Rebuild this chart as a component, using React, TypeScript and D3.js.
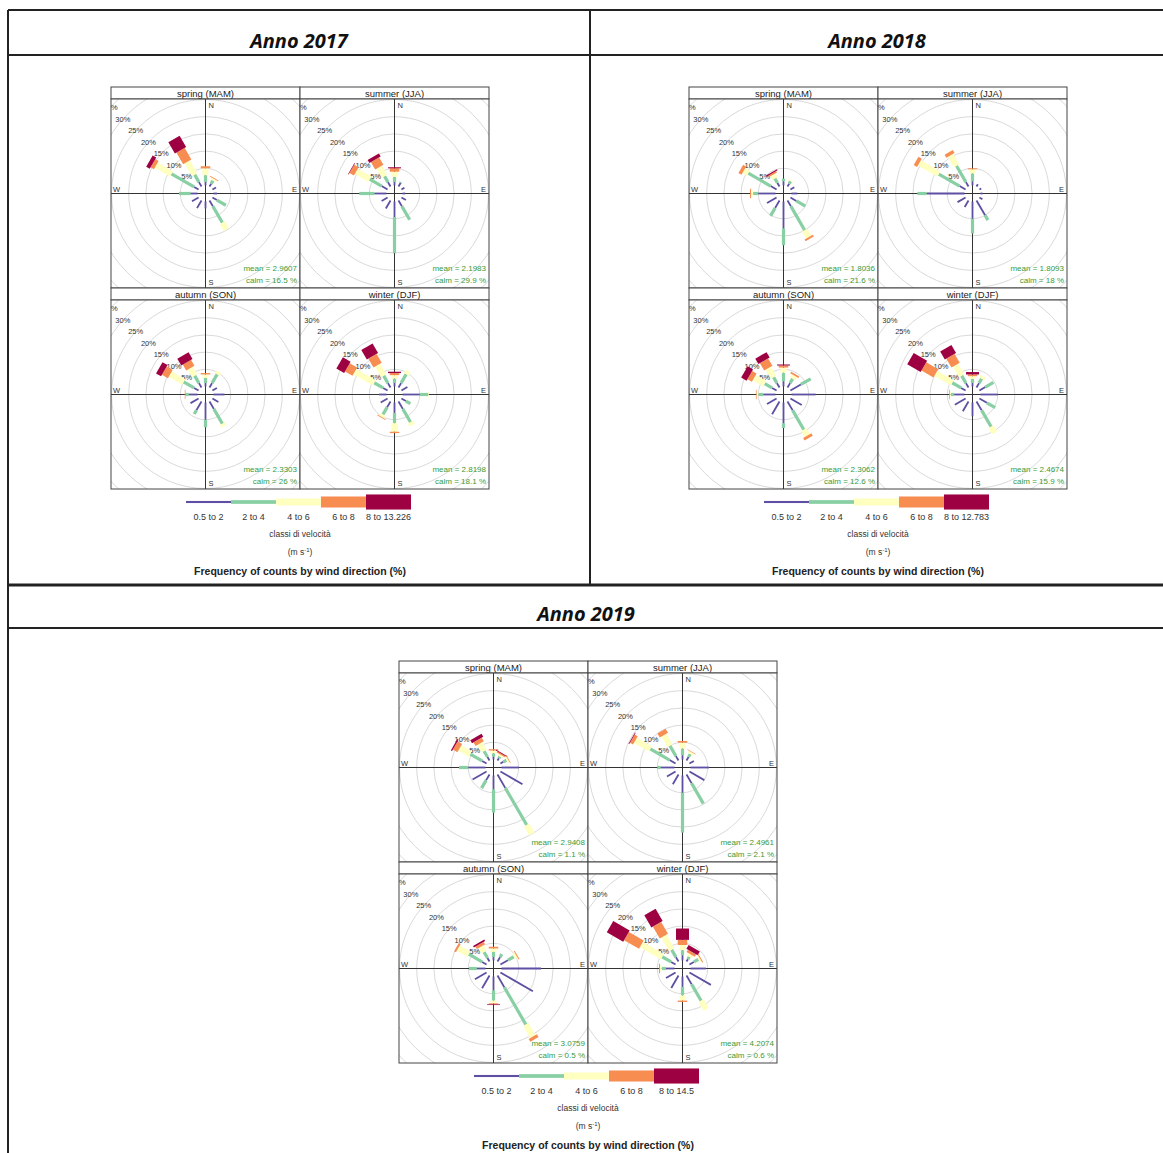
import React from 'react';
import * as d3 from 'd3';

// directions (deg from N) and the five speed classes
const dirs = [0, 30, 60, 90, 120, 150, 180, 210, 240, 270, 300, 330];
const seasonTitles = ['spring (MAM)', 'summer (JJA)', 'autumn (SON)', 'winter (DJF)'];
const binColours = ['#5e4fa2', '#88cfa4', '#ffffbf', '#f88d52', '#9e0142'];
const gridRings = [5, 10, 15, 20, 25, 30, 35, 40];
const ringLabels = [5, 10, 15, 20, 25, 30, 35];

// % frequency per direction, split by speed class (0.5-2, 2-4, 4-6, 6-8, 8+)
const spring2017 = [[1, 2, 2, 0.6], [1, 1, 0.6, 0.2], [1.2], [1], [1.5, 3], [2, 5.5, 2.3], [2], [2.6], [2.2], [2, 3.4], [1.5, 7.6, 5.1, 1.1, 1.2], [1.5, 2.5, 4.3, 3.9, 3.8]];
const summer2017 = [[1, 1.5, 1.5, 1, 0.3], [1.2, 0.3], [1], [0.8], [1.5], [2, 4.5], [4.5, 10.5], [2.7], [2], [3.5, 4.4], [2, 4, 4.5, 1.5, 0.2], [1.5, 2, 3, 2.5, 1]];
const autumn2017 = [[1, 1.5, 1, 0.4], [1.5, 3, 0.8], [1.5], [3.2], [2], [2.5, 5, 0.8], [5, 2.2], [3, 1.2], [2.7], [2.5, 1, 0, 0.2], [1.5, 3.5, 4.5, 2, 1.7], [1.5, 2.5, 2.5, 2, 2.3]];
const winter2017 = [[1, 1.3, 1, 0.6, 0.4], [1.5, 3, 1.1], [2], [5, 2.5, 0.2], [1.5, 1.5], [2.5, 4.5, 1], [3, 3, 2.5, 0.4], [2, 2.4, 0.8, 0.2], [2.3], [2.2], [1.5, 3, 6.5, 2.5, 2.6], [1.5, 2.5, 3.5, 3, 3.2]];

const spring2018 = [[1.2, 0.8], [1, 0.8, 0.3], [1.3], [1.7], [2, 3], [2, 8, 2.3, 0.6], [7.8, 4.9], [2.5, 2.7], [3.2], [5, 1.5, 0.6, 0.3], [2, 7.5, 1.5, 1], [1.2, 1.5, 1.2, 0.5, 0.3]];
const summer2018 = [[1.2, 2.3, 1.2, 0.3], [0.8], [0.6], [0.6], [1], [5, 1.6], [5, 4.3], [2.2], [2.7], [11, 2.7], [2, 7, 6.5, 1.1], [1.5, 5.5, 3.5, 1]];
const autumn2018 = [[1.5, 2.5, 1.5, 0.6, 0.3], [1.5, 1.5, 1, 0.5], [3.5, 3.3], [7], [3.8], [3, 6.5, 2, 0.8], [6, 1.4], [4.3], [3.2], [3.5, 1.5, 0.5, 0.2], [1.5, 2.5, 3.5, 1.5, 1.8], [1.5, 2, 3, 2.5, 1.8]];
const winter2018 = [[1, 1.2, 0.8, 0.5, 0.7], [1.5, 1.5, 0.8], [2, 2.7], [5], [2.5, 2.8], [3, 5.5, 2], [4], [3.3], [3.6], [3, 1, 0.3, 0.2], [1.5, 3, 5.5, 4, 4.5], [1.5, 2.5, 3.5, 3, 2.7]];

const spring2019 = [[0.8, 1, 0.8, 0.4], [0.8, 0.6, 0.5, 0.4, 0.2], [1, 1, 0.5, 0.2], [5.1], [7.4], [4.5, 12.5, 3], [4, 6.8], [2, 2.6], [4.7], [5, 2.7], [1.5, 4, 3.5, 1.5, 0.4], [1.2, 2, 2.5, 1.2, 1]];
const summer2019 = [[1.2, 2, 1.7, 0.5], [1.2, 1, 0.6, 0.2], [1.5], [5.4], [5], [3, 6.8], [5, 11.6], [3.3], [2.9], [4, 1], [2, 6.5, 5, 1, 0.2], [1.5, 3.5, 3.5, 1.4]];
const autumn2019 = [[1, 1.5, 1, 0.5], [1.5, 1], [2.5, 2, 0.8, 0.3], [11.5], [10.9], [4, 12.5, 4, 1], [4, 3, 0.8, 0.3, 0.2], [4.3], [3.9], [2.5, 2.3], [1.5, 4.5, 3.5, 0.6], [1.2, 2, 1.8, 0.8, 0.5]];
const winter2019 = [[1.5, 1.5, 1.5, 1.5, 3.3], [0.8, 0.8, 0.8, 0.8, 1.3], [1.5, 1.5, 0.5, 0.3], [4.5], [7.2], [3, 5.5, 2.9], [3, 2.5, 1.5, 0.4], [4.2], [3.2], [2.5, 1.2, 0.5, 0.3], [1.5, 3, 7, 5, 5.5], [1.5, 2.5, 4.5, 4, 4.1]];

const means2017 = ['2.9607', '2.1983', '2.3303', '2.8198'];
const calms2017 = ['16.5', '29.9', '26', '18.1'];
const means2018 = ['1.8036', '1.8093', '2.3062', '2.4674'];
const calms2018 = ['21.6', '18', '12.6', '15.9'];
const means2019 = ['2.9408', '2.4961', '3.0759', '4.2074'];
const calms2019 = ['1.1', '2.1', '0.5', '0.6'];

const speeds2017 = ['0.5 to 2', '2 to 4', '4 to 6', '6 to 8', '8 to 13.226'];
const speeds2018 = ['0.5 to 2', '2 to 4', '4 to 6', '6 to 8', '8 to 12.783'];
const speeds2019 = ['0.5 to 2', '2 to 4', '4 to 6', '6 to 8', '8 to 14.5'];

const PANEL_W = 189;
const STRIP_H = 12;
const PLOT_H = 189;
const HOLE = 8;
const PX_PER_PCT = 3.44;
const paddleW = [1.8, 3.2, 6, 9.5, 13];
const FONT = 'Liberation Sans, Arial, sans-serif';

function Rose({ data, title, mean, calm, x, y, id }: any) {
  const top = y + STRIP_H;
  const cx = x + PANEL_W / 2;
  const cy = top + PLOT_H / 2;
  const r = d3.scaleLinear().domain([0, 40]).range([HOLE, HOLE + 40 * PX_PER_PCT]);
  const line = d3.line().curve(d3.curveLinearClosed);

  const paddles: any[] = [];
  dirs.forEach((deg, i) => {
    const a = (deg * Math.PI) / 180;
    const ux = Math.sin(a), uy = -Math.cos(a);
    const px = Math.cos(a), py = Math.sin(a);
    let cum = 0;
    (data[i] as number[]).forEach((v, b) => {
      if (v <= 0) { cum += v; return; }
      const r1 = r(cum), r2 = r(cum + v);
      const hw = paddleW[b] / 2;
      const pts: [number, number][] = [
        [cx + ux * r1 + px * hw, cy + uy * r1 + py * hw],
        [cx + ux * r2 + px * hw, cy + uy * r2 + py * hw],
        [cx + ux * r2 - px * hw, cy + uy * r2 - py * hw],
        [cx + ux * r1 - px * hw, cy + uy * r1 - py * hw],
      ];
      paddles.push(<path key={`${i}-${b}`} d={line(pts) || ''} fill={binColours[b]} stroke="none" />);
      cum += v;
    });
  });

  const la = (42 * Math.PI) / 180;
  return (
    <g>
      <defs>
        <clipPath id={id}>
          <rect x={x} y={top} width={PANEL_W} height={PLOT_H} />
        </clipPath>
      </defs>
      <rect x={x} y={y} width={PANEL_W} height={STRIP_H} fill="#fff" stroke="#444" strokeWidth={1} />
      <text x={cx} y={y + 9.5} textAnchor="middle" fontSize={9.5} fontFamily={FONT} fill="#222">{title}</text>
      <rect x={x} y={top} width={PANEL_W} height={PLOT_H} fill="#fff" />
      <g clipPath={`url(#${id})`}>
        {gridRings.map(t => (
          <circle key={t} cx={cx} cy={cy} r={r(t)} fill="none" stroke="#cfcfcf" strokeWidth={0.8} />
        ))}
        <line x1={cx} x2={cx} y1={top} y2={top + PLOT_H} stroke="#333" strokeWidth={1} />
        <line x1={x} x2={x + PANEL_W} y1={cy} y2={cy} stroke="#333" strokeWidth={1} />
        {ringLabels.map(t => (
          <text key={t} x={cx - r(t) * Math.cos(la)} y={cy - r(t) * Math.sin(la) + 2.5}
            textAnchor="middle" fontSize={7.5} fontFamily={FONT} fill="#333">{`${t}%`}</text>
        ))}
        {paddles}
        <text x={cx + 3} y={top + 9} fontSize={7.5} fontFamily={FONT} fill="#333">N</text>
        <text x={cx + 3} y={top + PLOT_H - 3} fontSize={7.5} fontFamily={FONT} fill="#333">S</text>
        <text x={x + 2} y={cy - 2} fontSize={7.5} fontFamily={FONT} fill="#333">W</text>
        <text x={x + PANEL_W - 8} y={cy - 2} fontSize={7.5} fontFamily={FONT} fill="#333">E</text>
        <text x={x + PANEL_W - 3} y={top + PLOT_H - 17} textAnchor="end" fontSize={8} fontFamily={FONT} fill="#3a9a3a">{`mean = ${mean}`}</text>
        <text x={x + PANEL_W - 3} y={top + PLOT_H - 5} textAnchor="end" fontSize={8} fontFamily={FONT} fill="#3a9a3a">{`calm = ${calm} %`}</text>
      </g>
      <rect x={x} y={top} width={PANEL_W} height={PLOT_H} fill="none" stroke="#444" strokeWidth={1} />
    </g>
  );
}

function Block({ roses, means, calms, speeds, x, y, tag }: any) {
  const boxW = PANEL_W * 2;
  const rowH = STRIP_H + PLOT_H;
  const bottom = y + rowH * 2;
  const lx = d3.scaleBand().domain(speeds).range([x + 75, x + 75 + 45 * 5]);
  const mid = x + boxW / 2;
  return (
    <g>
      {roses.map((d: any, i: number) => (
        <Rose key={i} data={d} title={seasonTitles[i]} mean={means[i]} calm={calms[i]}
          x={x + (i % 2) * PANEL_W} y={y + Math.floor(i / 2) * rowH} id={`clip-${tag}-${i}`} />
      ))}
      {speeds.map((s: string, i: number) => (
        <g key={s}>
          <rect x={lx(s)} y={bottom + 13 - paddleW[i] * 0.58} width={lx.bandwidth()} height={paddleW[i] * 1.16} fill={binColours[i]} />
          <text x={(lx(s) as number) + lx.bandwidth() / 2} y={bottom + 31} textAnchor="middle" fontSize={9} fontFamily={FONT} fill="#333">{s}</text>
        </g>
      ))}
      <text x={mid} y={bottom + 48} textAnchor="middle" fontSize={8.5} fontFamily={FONT} fill="#333">classi di velocità</text>
      <text x={mid} y={bottom + 66} textAnchor="middle" fontSize={8.5} fontFamily={FONT} fill="#333">
        (m s<tspan dy={-3} fontSize={6}>-1</tspan><tspan dy={3}>)</tspan>
      </text>
      <text x={mid} y={bottom + 86} textAnchor="middle" fontSize={10.5} fontWeight="bold" fontFamily={FONT} fill="#222">Frequency of counts by wind direction (%)</text>
    </g>
  );
}

export default function App() {
  const titleFont = 'Open Sans, Liberation Sans, sans-serif';
  return (
    <div style={{ position: 'absolute', left: 0, top: 0 }}>
      <svg width={1163} height={1153} style={{ display: 'block', background: '#fff' }}>
        <g stroke="#222" strokeWidth={2}>
          <line x1={8} x2={1163} y1={10} y2={10} />
          <line x1={8} x2={1163} y1={55} y2={55} />
          <line x1={590} x2={590} y1={10} y2={585} />
          <line x1={8} x2={1163} y1={585} y2={585} strokeWidth={3} />
          <line x1={8} x2={1163} y1={628} y2={628} />
          <line x1={8} x2={8} y1={10} y2={1153} />
        </g>
        <text x={299} y={48} textAnchor="middle" fontSize={20} fontWeight="bold" fontStyle="italic" fontFamily={titleFont} fill="#111">Anno 2017</text>
        <text x={877} y={48} textAnchor="middle" fontSize={20} fontWeight="bold" fontStyle="italic" fontFamily={titleFont} fill="#111">Anno 2018</text>
        <text x={586} y={621} textAnchor="middle" fontSize={20} fontWeight="bold" fontStyle="italic" fontFamily={titleFont} fill="#111">Anno 2019</text>
        <Block roses={[spring2017, summer2017, autumn2017, winter2017]} means={means2017} calms={calms2017} speeds={speeds2017} x={111} y={87} tag="a" />
        <Block roses={[spring2018, summer2018, autumn2018, winter2018]} means={means2018} calms={calms2018} speeds={speeds2018} x={689} y={87} tag="b" />
        <Block roses={[spring2019, summer2019, autumn2019, winter2019]} means={means2019} calms={calms2019} speeds={speeds2019} x={399} y={661} tag="c" />
      </svg>
    </div>
  );
}
